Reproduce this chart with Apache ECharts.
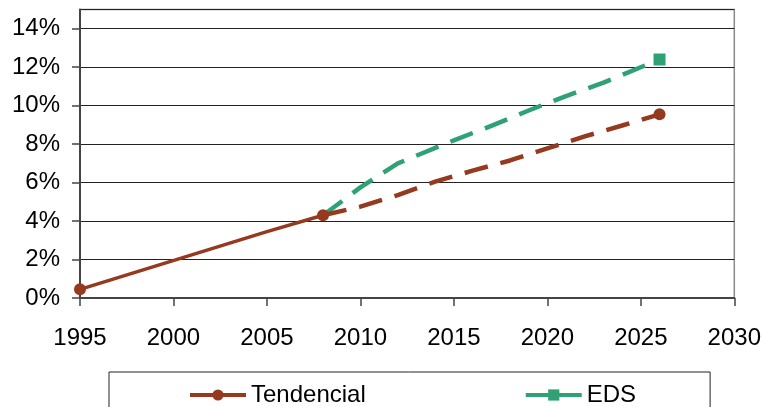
<!DOCTYPE html>
<html>
<head>
<meta charset="utf-8">
<script src="https://cdn.jsdelivr.net/npm/echarts@6/dist/echarts.min.js"></script>
<style>
  html, body { margin: 0; padding: 0; background: #fff; }
  #chart { width: 764px; height: 407px; }
</style>
</head>
<body>
<div id="chart"></div>
<script>
// Share of the indicator (%), historical trend and projections
const xTicks = [1995, 2000, 2005, 2010, 2015, 2020, 2025, 2030];
const yTicks = [0, 2, 4, 6, 8, 10, 12, 14];

// Historical series (solid)
const histYears  = [1995, 2005, 2008];
const histValues = [0.45, 3.45, 4.3];

// "Tendencial" projection (dashed)
const trendYears  = [2008, 2010, 2012, 2014, 2016, 2018, 2020, 2022, 2024, 2026];
const trendValues = [4.3, 4.75, 5.35, 6.05, 6.62, 7.15, 7.78, 8.4, 8.97, 9.55];

// "EDS" projection (dashed)
const edsYears  = [2008, 2010, 2012, 2015, 2017, 2019, 2021, 2023, 2026];
const edsValues = [4.3, 5.75, 7.0, 8.2, 8.95, 9.75, 10.5, 11.2, 12.4];

const RED = '#953a1f';
const GREEN = '#2fa275';

// Points only get a marker at the series ends listed here
function pairs(xs, ys, markAt) {
  return xs.map((x, i) => {
    const item = { value: [x, ys[i]] };
    if (!markAt.includes(x)) item.symbol = 'none';
    return item;
  });
}

const chart = echarts.init(document.getElementById('chart'), null, { renderer: 'canvas' });

chart.setOption({
  animation: false,
  textStyle: { fontFamily: 'Liberation Sans, Arial, sans-serif' },
  grid: {
    left: 80, right: 29, top: 9.5, bottom: 109,
    show: true, borderColor: '#8a8a8a', borderWidth: 1.5, backgroundColor: 'transparent'
  },
  legend: {
    data: ['Tendencial', 'EDS'],
    left: 109, top: 372,
    padding: [11, 74, 30, 79],
    borderColor: '#222', borderWidth: 1,
    itemWidth: 56, itemHeight: 14, itemGap: 158,
    lineStyle: { type: 'solid', width: 4 },
    textStyle: { fontSize: 24, color: '#000' }
  },
  xAxis: {
    type: 'value',
    min: xTicks[0], max: xTicks[xTicks.length - 1], interval: 5,
    axisLine: { lineStyle: { color: '#444', width: 2 } },
    axisTick: { show: true, length: 8, lineStyle: { color: '#444', width: 1.5 } },
    axisLabel: { fontSize: 24, color: '#000', margin: 28, formatter: v => String(v) },
    splitLine: { show: false }
  },
  yAxis: {
    type: 'value',
    min: 0, max: 15, interval: 2,
    axisLine: { show: true, lineStyle: { color: '#444', width: 2 } },
    axisTick: { show: true, length: 8, lineStyle: { color: '#444', width: 1.5 } },
    axisLabel: {
      fontSize: 24, color: '#000', margin: 20,
      showMaxLabel: false,
      formatter: v => (yTicks.includes(v) ? v + '%' : '')
    },
    splitLine: { show: true, lineStyle: { color: '#222', width: 1.2 } }
  },
  series: [
    {
      name: 'EDS', type: 'line', z: 2,
      data: pairs(edsYears, edsValues, [2026]),
      symbol: 'rect', symbolSize: 12,
      itemStyle: { color: GREEN },
      lineStyle: { color: GREEN, width: 4.5, type: [24, 13] }
    },
    {
      name: 'Tendencial', type: 'line', z: 3,
      data: pairs(histYears, histValues, [1995, 2008]),
      symbol: 'circle', symbolSize: 12,
      itemStyle: { color: RED },
      lineStyle: { color: RED, width: 3.5, type: 'solid' }
    },
    {
      name: 'Tendencial', type: 'line', z: 3,
      data: pairs(trendYears, trendValues, [2026]),
      symbol: 'circle', symbolSize: 12,
      itemStyle: { color: RED },
      lineStyle: { color: RED, width: 4.5, type: [24, 13] }
    }
  ]
});
</script>
</body>
</html>
